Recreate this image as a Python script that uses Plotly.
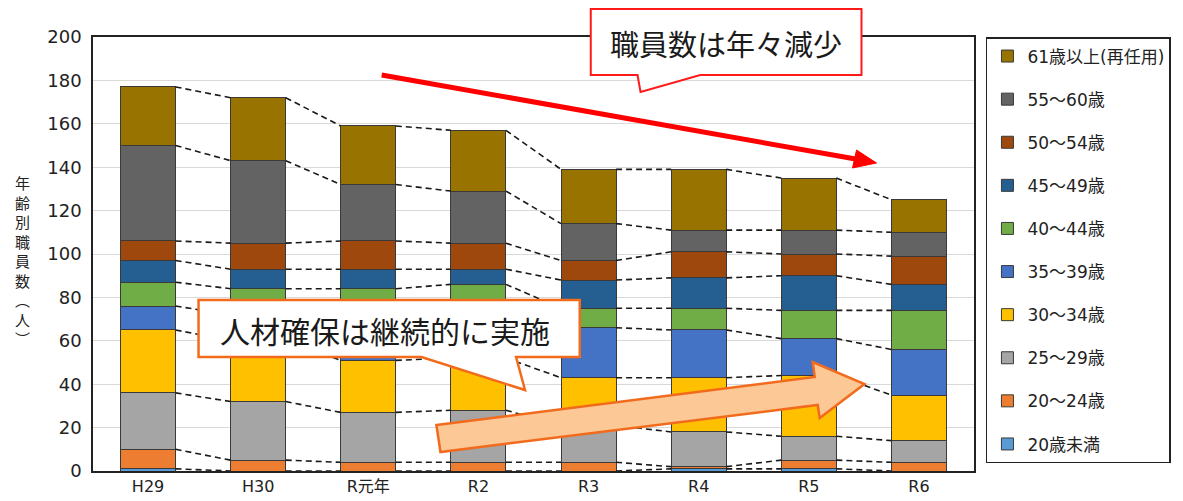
import plotly.graph_objects as go

# 年度
years = ["H29", "H30", "R元年", "R2", "R3", "R4", "R5", "R6"]

# 年齢別職員数（人）— bottom of the stack first
age_lt20 = [1, 0, 0, 0, 0, 1, 1, 0]
age_20_24 = [9, 5, 4, 4, 4, 1, 4, 4]
age_25_29 = [26, 27, 23, 24, 17, 16, 11, 10]
age_30_34 = [29, 28, 24, 24, 22, 25, 28, 21]
age_35_39 = [11, 12, 20, 23, 23, 22, 17, 21]
age_40_44 = [11, 12, 13, 11, 9, 10, 13, 18]
age_45_49 = [10, 9, 9, 7, 13, 14, 16, 12]
age_50_54 = [9, 12, 13, 12, 9, 12, 10, 13]
age_55_60 = [44, 38, 26, 24, 17, 10, 11, 11]
age_61_up = [27, 29, 27, 28, 25, 28, 24, 15]

series = [
    ("20歳未満", age_lt20, "#5B9BD5"),
    ("20～24歳", age_20_24, "#ED7D31"),
    ("25～29歳", age_25_29, "#A5A5A5"),
    ("30～34歳", age_30_34, "#FFC000"),
    ("35～39歳", age_35_39, "#4472C4"),
    ("40～44歳", age_40_44, "#70AD47"),
    ("45～49歳", age_45_49, "#255E91"),
    ("50～54歳", age_50_54, "#9E480E"),
    ("55～60歳", age_55_60, "#636363"),
    ("61歳以上(再任用)", age_61_up, "#997300"),
]

FONT = "DejaVu Sans, Noto Sans CJK JP, sans-serif"
JP_FONT = "Noto Sans CJK JP, sans-serif"

# page has an 8px body margin, so the figure is drawn 8px in from the top-left
OFF = 8
W, H = 1183 - OFF, 501 - OFF
# plot area in screenshot pixels
L, R, T, B = 93, 978, 37, 471


def px(x, y):
    """screenshot pixel position -> paper coords"""
    return (x - L) / (R - L), (B - y) / (B - T)


def path(points):
    pts = [px(x, y) for x, y in points]
    return "M " + " L ".join(f"{a:.4f},{b:.4f}" for a, b in pts) + " Z"


fig = go.Figure()

# dashed connectors between the cumulative boundaries of neighbouring bars
xs, ys = [], []
for i in range(len(years) - 1):
    cum_a, cum_b = 0, 0
    for _, vals, _ in series:
        cum_a += vals[i]
        cum_b += vals[i + 1]
        xs += [i + 0.25, i + 0.75, None]
        ys += [cum_a, cum_b, None]
fig.add_trace(go.Scatter(x=xs, y=ys, mode="lines", showlegend=False, hoverinfo="skip",
                         line=dict(color="#1a1a1a", width=1.6, dash="6px,4px")))

for k, (name, vals, color) in enumerate(series):
    fig.add_trace(go.Bar(
        x=list(range(len(years))), y=vals, name=name, width=0.5,
        legendgroup=f"g{k}", legendrank=100 - k,
        marker=dict(color=color, line=dict(color="#3a3a3a", width=1)),
    ))

shapes = []
# 職員数は年々減少 — red callout
shapes.append(dict(type="path", xref="paper", yref="paper", layer="above",
                   path=path([(593, 9), (865, 9), (865, 75), (703, 75), (643, 92), (640, 75), (593, 75)]),
                   fillcolor="white", line=dict(color="#FF1A1A", width=2)))
# red trend arrow
x0, y0 = px(383, 75)
x1, y1 = px(859, 159)
shapes.append(dict(type="line", xref="paper", yref="paper", layer="above",
                   x0=x0, y0=y0, x1=x1, y1=y1, line=dict(color="#FF0000", width=5)))
shapes.append(dict(type="path", xref="paper", yref="paper", layer="above",
                   path=path([(856, 168), (880, 163), (860, 150)]),
                   fillcolor="#FF0000", line=dict(color="#FF0000", width=1)))
# 人材確保は継続的に実施 — orange callout
shapes.append(dict(type="path", xref="paper", yref="paper", layer="above",
                   path=path([(199, 300), (582, 300), (582, 357), (518, 357), (527, 390), (423, 357), (199, 357)]),
                   fillcolor="white", line=dict(color="#F26B1D", width=2.5)))
# big orange arrow
shapes.append(dict(type="path", xref="paper", yref="paper", layer="above",
                   path=path([(438, 425), (818, 377), (816, 362), (868, 384), (823, 418), (821, 405), (442, 452)]),
                   fillcolor="#FBC896", line=dict(color="#F26B1D", width=2.5)))

annotations = [
    dict(text="職員数は年々減少", xref="paper", yref="paper", x=px(729, 0)[0], y=px(0, 43)[1],
         xanchor="center", yanchor="middle", showarrow=False,
         font=dict(family=JP_FONT, size=29, color="#1a1a1a")),
    dict(text="人材確保は継続的に実施", xref="paper", yref="paper", x=px(386, 0)[0], y=px(0, 330)[1],
         xanchor="center", yanchor="middle", showarrow=False,
         font=dict(family=JP_FONT, size=30, color="#1a1a1a")),
    dict(text="<br>".join("年齢別職員数︵人︶"), xref="paper", yref="paper",
         x=px(22, 0)[0], y=px(0, 260)[1], xanchor="center", yanchor="middle", showarrow=False,
         font=dict(family=JP_FONT, size=15, color="#222")),
]

fig.update_layout(
    width=W, height=H,
    margin=dict(l=L - OFF, r=1183 - R, t=T - OFF, b=501 - B),
    barmode="stack",
    paper_bgcolor="white", plot_bgcolor="white",
    font=dict(family=FONT, color="#222"),
    shapes=shapes, annotations=annotations,
    legend=dict(traceorder="grouped", x=px(990, 0)[0], xanchor="left", y=1, yanchor="top",
                bordercolor="#222", borderwidth=1.5, font=dict(size=17, family=FONT),
                tracegroupgap=18, itemwidth=30),
)
fig.update_xaxes(range=[-0.5, 7.5], tickvals=list(range(len(years))), ticktext=years,
                 showgrid=False, showline=True, mirror=True, linecolor="#222", linewidth=1.5,
                 tickfont=dict(size=16), zeroline=False, automargin=False)
fig.update_yaxes(range=[0, 200], dtick=20, showgrid=True, gridcolor="#D9D9D9", gridwidth=1,
                 showline=True, mirror=True, linecolor="#222", linewidth=1.5,
                 tickfont=dict(size=18), zeroline=False, ticklabelstandoff=6, automargin=False)

fig.write_html("out.html")
